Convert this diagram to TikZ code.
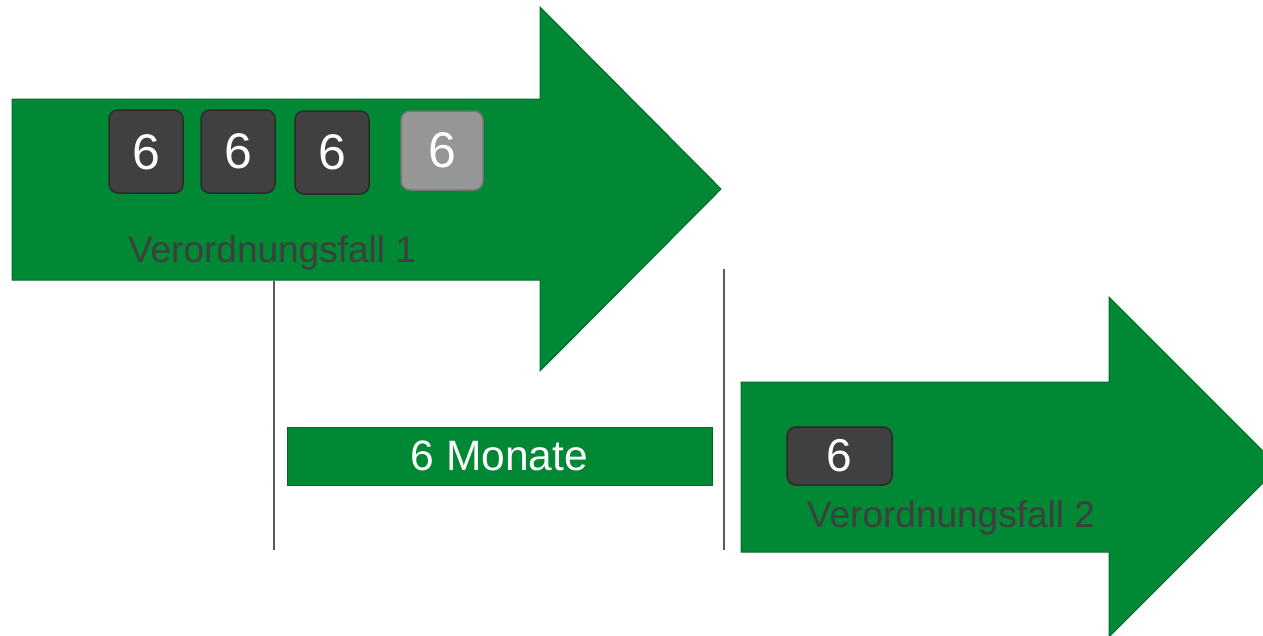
\documentclass[tikz,border=0pt]{standalone}
\usepackage{fontspec}
\setmainfont{Liberation Sans}
\definecolor{arrowgreen}{RGB}{0,136,52}
\definecolor{arrowedge}{RGB}{0,104,40}
\definecolor{boxdark}{RGB}{64,64,64}
\definecolor{boxdarkedge}{RGB}{42,42,42}
\definecolor{boxlight}{RGB}{150,150,150}
\definecolor{boxlightedge}{RGB}{118,118,118}
\definecolor{labelgrey}{RGB}{62,62,62}
\definecolor{divider}{RGB}{90,90,90}
\tikzset{
  bigarrow/.style={fill=arrowgreen, draw=arrowedge, line width=1pt, line join=miter},
  countbox/.style={draw=boxdarkedge, fill=boxdark, line width=1.5pt, rounded corners=9pt,
    text=white, inner sep=0pt, font=\fontsize{50}{50}\selectfont},
  countboxlight/.style={countbox, draw=boxlightedge, fill=boxlight},
  caselabel/.style={text=labelgrey, inner sep=0pt, font=\fontsize{37}{37}\selectfont},
  periodbar/.style={fill=arrowgreen, draw=arrowedge, line width=1pt, text=white,
    inner sep=0pt, font=\fontsize{42.5}{42.5}\selectfont},
  divline/.style={draw=divider, line width=1.3pt}
}
\begin{document}
\begin{tikzpicture}[x=1pt, y=-1pt]
\useasboundingbox (0,0) rectangle (1263,635);
\begin{scope}
\clip (0,0) rectangle (1263,635);
% first prescription case
\path[bigarrow] (12,99) -- (540,99) -- (540,7) -- (721,189) -- (540,371) -- (540,280) -- (12,280) -- cycle;
% second prescription case
\path[bigarrow] (741,382) -- (1109,382) -- (1109,297) -- (1279,467) -- (1109,637) -- (1109,552) -- (741,552) -- cycle;
\end{scope}

% dividers marking the interval
\draw[divline] (274,281) -- (274,550);
\draw[divline] (724,269) -- (724,550);

% quarterly units of case 1
\node[countbox, minimum width=74pt, minimum height=83pt, text depth=0pt] (b1) at (146,151.5) {\raisebox{-2pt}{6}};
\node[countbox, minimum width=74pt, minimum height=83pt] (b2) at (238,151.5) {\raisebox{-2pt}{6}};
\node[countbox, minimum width=74pt, minimum height=83pt] (b3) at (332,152.5) {\raisebox{-2pt}{6}};
\node[countboxlight, minimum width=82pt, minimum height=79pt] (b4) at (442,150.5) {\raisebox{-2pt}{6}};
\node[caselabel] (l1) at (272,253) {Verordnungsfall 1};

% waiting period
\node[periodbar, minimum width=425pt, minimum height=58pt] (gap) at (499.5,456) {\raisebox{-2pt}{6 Monate}};

% first unit of case 2
\node[countbox, minimum width=105pt, minimum height=58pt, font=\fontsize{46}{46}\selectfont] (c1) at (839.5,456) {\raisebox{-2pt}{6}};
\node[caselabel] (l2) at (951,518) {\raisebox{-3pt}{Verordnungsfall 2}};
\end{tikzpicture}
\end{document}
